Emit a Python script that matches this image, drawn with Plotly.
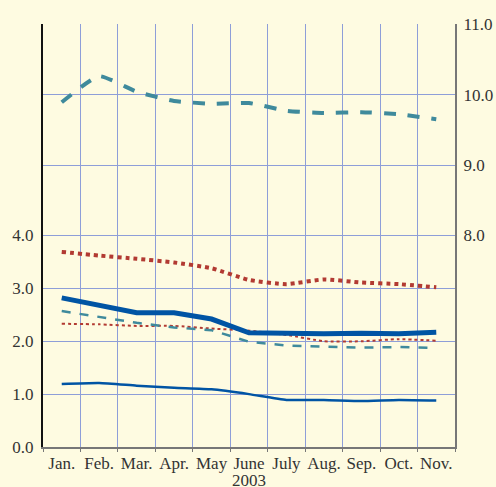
import plotly.graph_objects as go

months = ["Jan.", "Feb.", "Mar.", "Apr.", "May", "June", "July", "Aug.", "Sep.", "Oct.", "Nov."]
year_label = "2003"

# right axis series (thick teal dashed)
teal_thick = [9.89, 10.26, 10.04, 9.91, 9.87, 9.88, 9.77, 9.74, 9.75, 9.72, 9.65]
# left axis series
red_big = [3.69, 3.62, 3.56, 3.49, 3.38, 3.16, 3.08, 3.17, 3.11, 3.08, 3.02]
blue_thick = [2.82, 2.68, 2.54, 2.54, 2.42, 2.16, 2.14, 2.14, 2.15, 2.14, 2.17]
teal_thin = [2.57, 2.46, 2.35, 2.26, 2.21, 1.99, 1.92, 1.90, 1.88, 1.89, 1.87]
red_thin = [2.33, 2.32, 2.29, 2.29, 2.24, 2.20, 2.12, 2.00, 2.00, 2.04, 2.01]
blue_thin = [1.19, 1.21, 1.16, 1.12, 1.09, 1.00, 0.89, 0.89, 0.87, 0.89, 0.88]

left_ticks = [0, 1, 2, 3, 4]
right_ticks = [8, 9, 10, 11]

RED = "#b23a32"
BLUE = "#0054a4"
TEAL = "#3f8a9c"
GRID = "#8e9ed8"
BG = "#fefbe1"
FONT = dict(family="'Liberation Serif', 'Times New Roman', Times, serif", size=17, color="#333333")

fig = go.Figure()
fig.add_trace(go.Scatter(x=months, y=red_big, mode="lines",
                         line=dict(color=RED, width=4, dash="dot", shape="spline", smoothing=0.5)))
fig.add_trace(go.Scatter(x=months, y=red_thin, mode="lines",
                         line=dict(color=RED, width=2, dash="dot", shape="spline", smoothing=0.5)))
fig.add_trace(go.Scatter(x=months, y=teal_thin, mode="lines",
                         line=dict(color=TEAL, width=2.5, dash="dash")))
fig.add_trace(go.Scatter(x=months, y=blue_thin, mode="lines",
                         line=dict(color=BLUE, width=2.5, shape="spline", smoothing=0.5)))
fig.add_trace(go.Scatter(x=months, y=blue_thick, mode="lines",
                         line=dict(color=BLUE, width=5)))
fig.add_trace(go.Scatter(x=months, y=teal_thick, mode="lines", yaxis="y2",
                         line=dict(color=TEAL, width=4, dash="dash", shape="spline", smoothing=0.5)))

fig.update_layout(
    width=496, height=487,
    paper_bgcolor=BG, plot_bgcolor=BG,
    showlegend=False,
    margin=dict(l=43, r=41, t=24, b=40, autoexpand=False),
    font=FONT,
    xaxis=dict(type="category", tickson="boundaries", showgrid=True, gridcolor=GRID, gridwidth=1,
               ticks="outside", ticklen=3, tickcolor="#777777", showline=True, linecolor="#777777",
               linewidth=2, tickfont=FONT, range=[-0.5, 10.5], tickangle=0, automargin=False),
    yaxis=dict(range=[0, 8], tickvals=left_ticks, ticktext=[f"{v:.1f}" for v in left_ticks],
               showgrid=True, gridcolor=GRID, gridwidth=1, showline=True, linecolor="#111111",
               linewidth=2, ticks="", tickfont=FONT, zeroline=False, automargin=False,
               ticklabelstandoff=4),
    yaxis2=dict(range=[5, 11.001], overlaying="y", side="right", tickvals=right_ticks,
                ticktext=[f"{v:.1f}" for v in right_ticks], showgrid=True, gridcolor=GRID, gridwidth=1,
                showline=True, linecolor="#777777", linewidth=2, ticks="", tickfont=FONT,
                zeroline=False, automargin=False, ticklabelstandoff=3),
    annotations=[dict(text=year_label, xref="paper", yref="paper", x=0.5, y=-0.08,
                      xanchor="center", yanchor="middle", showarrow=False, font=FONT)],
)

fig.write_html(
    "out.html",
    config={"displayModeBar": False},
    post_script="document.body.style.margin='0';document.body.style.padding='0';"
                "document.body.style.background='" + BG + "';"
                "document.documentElement.style.overflow='hidden';",
)
